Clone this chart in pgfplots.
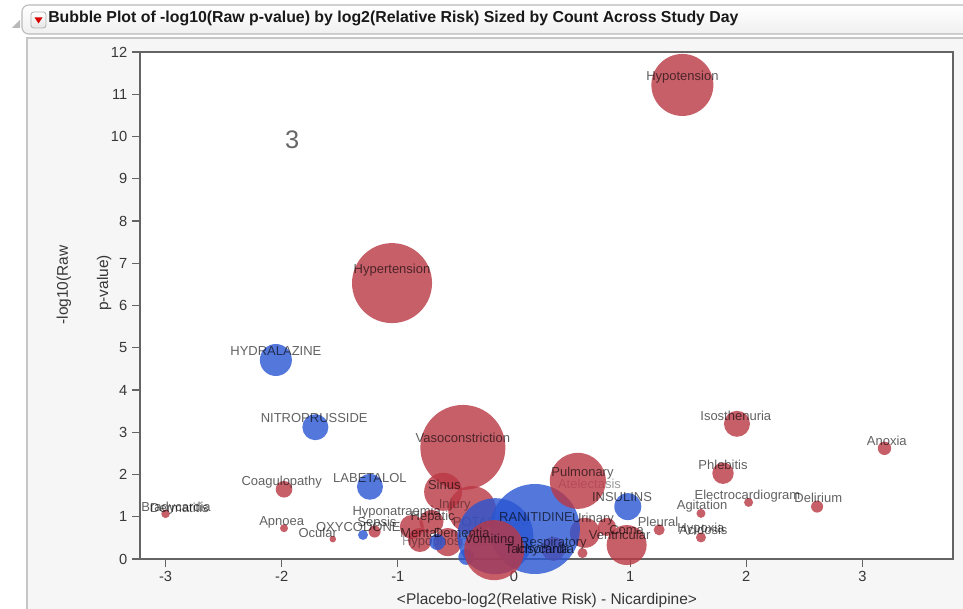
\documentclass[border=0pt]{standalone}
\usepackage{pgfplots}
\pgfplotsset{compat=1.18}
\usepackage{pgfplotstable}
\usepackage{fontspec}
\setmainfont{Liberation Sans}
\definecolor{bred}{RGB}{186,55,68}
\definecolor{bblue}{RGB}{42,86,211}
\definecolor{axgray}{RGB}{100,100,100}
\definecolor{txtgray}{RGB}{55,55,55}

\pgfplotstableread{
x y r
1.45 11.22 31
-1.05 6.53 40
-0.44 2.64 42.5
1.92 3.20 13
3.19 2.62 6.7
1.80 2.03 10.7
2.02 1.34 4.5
2.61 1.24 6
1.61 1.08 4.5
1.61 0.51 5
1.25 0.69 5.5
-1.98 1.65 8.3
-3.00 1.07 4.3
-1.98 0.73 4
-1.56 0.47 3.3
-1.20 0.65 6
-0.61 1.59 19
-0.36 1.16 24
-0.88 0.76 12
-0.71 0.88 12
-0.81 0.45 12
-0.57 0.40 14
0.61 0.62 15
0.97 0.33 20
0.80 0.76 9
0.59 0.14 5
0.34 0.24 12
}\redback

\pgfplotstableread{
x y r
-2.05 4.71 16
-1.71 3.12 13
-1.24 1.71 13
0.98 1.24 13.5
-1.30 0.57 5
-0.66 0.40 8
-0.41 0.05 8
-0.16 0.54 38
0.18 0.71 45
}\blue

\pgfplotstableread{
x y r
0.55 1.85 28
-0.17 0.21 30
}\redfront

\pgfplotstableread{
x y label
0.65 1.77 Atelectasis
-0.51 1.28 Injury
-0.20 0.88 POTASSIUM
-0.45 0.40 Hypophosphataemia
}\hiddenlabels

\pgfplotstableread{
x y label
1.45 11.41 Hypotension
-1.05 6.84 Hypertension
-2.05 4.92 HYDRALAZINE
-1.72 3.34 NITROPRUSSIDE
-0.44 2.86 Vasoconstriction
1.91 3.38 Isosthenuria
3.21 2.80 Anoxia
1.80 2.22 Phlebitis
2.01 1.49 Electrocardiogram
2.62 1.44 Delirium
1.62 1.25 Agitation
1.61 0.70 Hypoxia
1.63 0.70 Acidosis
1.24 0.87 Pleural
-2.00 1.83 Coagulopathy
-1.24 1.91 LABETALOL
-0.60 1.75 Sinus
-2.91 1.21 Bradycardia
-2.88 1.21 Dermatitis
-2.00 0.86 Apnoea
-1.69 0.62 Ocular
-1.34 0.76 OXYCODONE
-1.18 0.84 Sepsis
-1.01 1.10 Hyponatraemia
-0.70 1.00 Hepatic
-0.81 0.62 Mental
-0.45 0.62 Dementia
0.19 1.00 RANITIDINE
0.68 0.94 Urinary
0.97 0.69 Coma
0.91 0.57 Ventricular
0.34 0.38 Respiratory
0.22 0.22 Tachycardia
0.25 0.24 Insomnia
-0.21 0.45 Vomiting
0.59 2.04 Pulmonary
0.93 1.47 INSULINS
}\labels

\pgfplotsset{
  bubble/.style={scatter, only marks, mark=*,
    scatter/use mapped color={draw=#1, draw opacity=0, fill=#1, fill opacity=0.8},
    visualization depends on={0.75*\thisrow{r} \as \rad},
    scatter/@pre marker code/.append style={/tikz/mark size=\rad pt}},
  lbl/.style={only marks, mark=none, nodes near coords, point meta=explicit symbolic,
    nodes near coords style={anchor=center, inner sep=0pt, yshift=0pt,
      font=\fontsize{9.75}{10}\selectfont, text=black, text opacity=#1}}
}

\begin{document}
\begin{tikzpicture}
\begin{scope}[x=0.75pt,y=-0.75pt]
  \useasboundingbox (0,0) rectangle (963,609);
  \clip (0,0) rectangle (963,609);
  \fill[white] (0,0) rectangle (963,609);
  \fill[gray!7] (27,38) rectangle (1000,640);
  \draw[gray!45, line width=0.8pt] (27,640) -- (27,38) -- (1000,38);
  \shade[top color=white, bottom color=gray!12, draw=gray!55, rounded corners=5pt, line width=0.8pt] (22,5) rectangle (1000,34);
  \fill[gray!55] (12,28) -- (20,28) -- (20,20) -- cycle;
  \shade[top color=white, bottom color=gray!20, draw=gray!60, rounded corners=2pt, line width=0.6pt] (31,12) rectangle (46,28);
  \fill[red!85!black] (34.5,17.5) -- (42.5,17.5) -- (38.5,23.5) -- cycle;
  \node[anchor=west, inner sep=0pt, font=\bfseries\fontsize{11.9}{13}\selectfont, text=black!90] at (48,18) {Bubble Plot of -log10(Raw p-value) by log2(Relative Risk) Sized by Count Across Study Day};
  \node[rotate=90, inner sep=0pt, font=\fontsize{11.6}{13}\selectfont, text=txtgray] at (64,285) {-log10(Raw};
  \node[rotate=90, inner sep=0pt, font=\fontsize{11.6}{13}\selectfont, text=txtgray] at (104,283) {p-value)};
  \node[inner sep=0pt, font=\fontsize{11.6}{13}\selectfont, text=txtgray] at (547,600) {<Placebo-log2(Relative Risk) - Nicardipine>};
\end{scope}
\begin{axis}[
  at={(105pt,-419.25pt)}, anchor=south west,
  scale only axis, width=609.75pt, height=380.25pt,
  xmin=-3.22, xmax=3.78, ymin=0, ymax=12,
  xtick={-3,...,3}, ytick={0,...,12},
  tick align=outside, xtick pos=bottom, ytick pos=left,
  major tick length=6pt,
  axis line style={draw=axgray, line width=1.1pt},
  tick style={draw=axgray, line width=0.8pt},
  ticklabel style={font=\fontsize{11}{12}\selectfont, text=txtgray},
  /pgf/number format/assume math mode=true,
  axis background/.style={fill=white},
]
\addplot[bubble=bred] table[x=x,y=y] {\redback};
\addplot[lbl=0.4] table[x=x,y=y,meta=label] {\hiddenlabels};
\addplot[bubble=bblue] table[x=x,y=y] {\blue};
\addplot[bubble=bred] table[x=x,y=y] {\redfront};
\addplot[lbl=0.62] table[x=x,y=y,meta=label] {\labels};
\node[font=\fontsize{19}{20}\selectfont, text=black!60] at (axis cs:-1.91,9.92) {3};
\end{axis}
\end{tikzpicture}
\end{document}
